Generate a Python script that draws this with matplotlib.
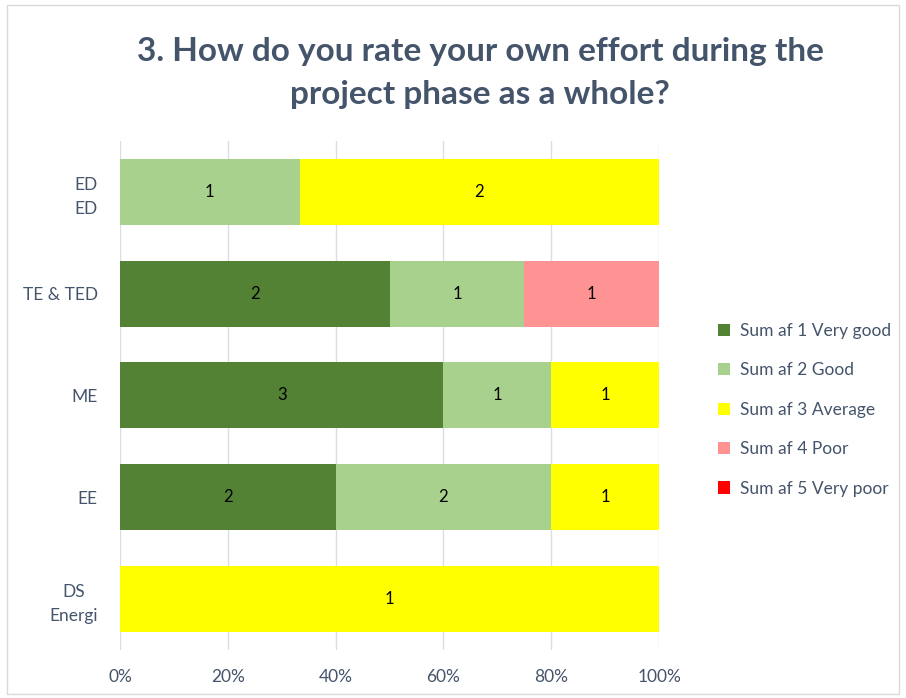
import matplotlib
matplotlib.use("Agg")
import matplotlib.pyplot as plt
from matplotlib.patches import Rectangle
from matplotlib.ticker import PercentFormatter

plt.rcParams['font.family'] = ['Lato', 'DejaVu Sans']

# categories bottom to top
groups = ['DS\nEnergi', 'EE', 'ME', 'TE & TED', 'ED\nED']
series = ['Sum af 1 Very good', 'Sum af 2 Good', 'Sum af 3 Average',
          'Sum af 4 Poor', 'Sum af 5 Very poor']
very_good = [0, 2, 3, 2, 0]
good = [0, 2, 1, 1, 1]
average = [1, 1, 1, 0, 2]
poor = [0, 0, 0, 1, 0]
very_poor = [0, 0, 0, 0, 0]
colors = ['#548235', '#A9D18E', '#FFFF00', '#FF9393', '#FF0000']

counts = [very_good, good, average, poor, very_poor]
totals = [sum(c[i] for c in counts) for i in range(len(groups))]

txt = '#44546A'
fig = plt.figure(figsize=(9.06, 6.98), dpi=100)
fig.patches.append(Rectangle((0.008, 0.006), 0.984, 0.987, transform=fig.transFigure,
                             fill=False, edgecolor='#D9D9D9', linewidth=1))
ax = fig.add_axes([0.1325, 0.069, 0.595, 0.729])

left = [0.0] * len(groups)
for name, vals, col in zip(series, counts, colors):
    share = [v / t for v, t in zip(vals, totals)]
    bars = ax.barh(range(len(groups)), share, left=left, height=0.65,
                   color=col, label=name, zorder=2)
    for b, v in zip(bars, vals):
        if v > 0:
            ax.text(b.get_x() + b.get_width() / 2, b.get_y() + b.get_height() / 2,
                    str(v), ha='center', va='center', fontsize=12, color='black')
    left = [l + s for l, s in zip(left, share)]

ax.set_xlim(0, 1)
ax.set_ylim(-0.5, 4.5)
ax.set_yticks(range(len(groups)))
ax.set_yticklabels(groups, fontsize=12.5, color=txt, ha='right', linespacing=1.6,
                   multialignment='center')
ax.xaxis.set_major_formatter(PercentFormatter(1.0, decimals=0))
ax.set_xticks([0, 0.2, 0.4, 0.6, 0.8, 1.0])
ax.tick_params(axis='x', labelsize=12.5, labelcolor=txt, length=0, pad=14)
ax.tick_params(axis='y', length=0, pad=16)
ax.grid(axis='x', color='#D9DEE6', linewidth=1, zorder=0)
for s in ax.spines.values():
    s.set_visible(False)

fig.text(0.53, 0.895, '3. How do you rate your own effort during the\nproject phase as a whole?',
         ha='center', va='center', fontsize=24, fontweight='bold', color=txt,
         linespacing=1.6)

leg = ax.legend(loc='center left', bbox_to_anchor=(1.08, 0.472), frameon=False,
                fontsize=12.5, labelcolor=txt, handlelength=0.7, handleheight=0.7,
                labelspacing=1.35, handletextpad=0.6)

fig.savefig('out.png', dpi=100)
